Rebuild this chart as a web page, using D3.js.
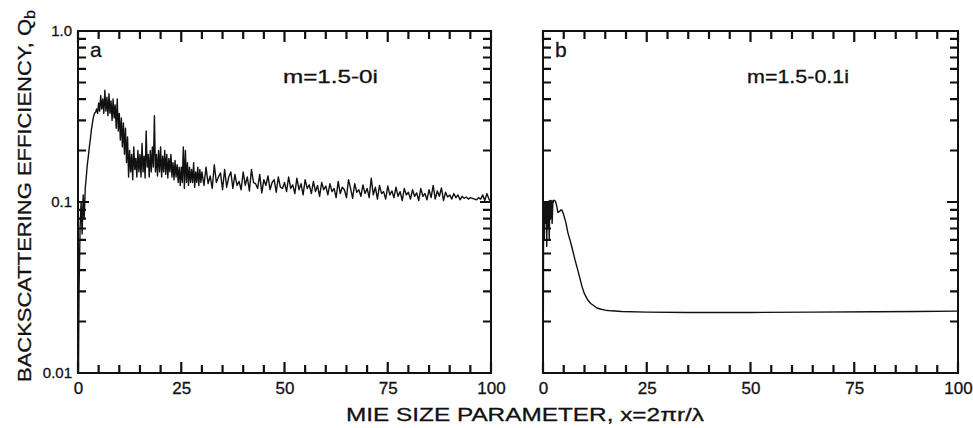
<!DOCTYPE html>
<html>
<head>
<meta charset="utf-8">
<script src="https://cdn.jsdelivr.net/npm/d3@7/dist/d3.min.js"></script>
<style>
  body { margin: 0; background: #fff; }
  svg { display: block; }
  text { font-family: "Liberation Sans", "DejaVu Sans", sans-serif; fill: #111; stroke: #111; stroke-width: 0.3px; }
</style>
</head>
<body>
<svg id="chart" width="973" height="428"></svg>
<script>
// panel a: m = 1.5 - 0i, sampled every 0.25 from x=0 to 30, then every 0.5 to 100
const stepA1 = 0.25, startA2 = 30.5, stepA2 = 0.5;
const qbA1 = [
  0.004, 0.03, 0.07, 0.10, 0.065, 0.11, 0.08, 0.12, 0.14, 0.165,
  0.185, 0.21, 0.235, 0.265, 0.29, 0.315, 0.33, 0.335, 0.35, 0.33,
  0.38, 0.34, 0.42, 0.35, 0.40, 0.33, 0.45, 0.34, 0.41, 0.32,
  0.43, 0.33, 0.39, 0.30, 0.40, 0.31, 0.37, 0.27, 0.40, 0.26,
  0.33, 0.23, 0.31, 0.21, 0.29, 0.19, 0.27, 0.17, 0.24, 0.14,
  0.20, 0.15, 0.19, 0.135, 0.21, 0.155, 0.18, 0.14, 0.20, 0.15,
  0.19, 0.14, 0.22, 0.15, 0.185, 0.138, 0.26, 0.16, 0.19, 0.14,
  0.20, 0.15, 0.21, 0.16, 0.32, 0.15, 0.19, 0.142, 0.20, 0.15,
  0.21, 0.14, 0.185, 0.15, 0.20, 0.145, 0.19, 0.138, 0.18, 0.15,
  0.19, 0.14, 0.17, 0.135, 0.175, 0.14, 0.165, 0.13, 0.16, 0.125,
  0.16, 0.13, 0.21, 0.12, 0.20, 0.13, 0.17, 0.125, 0.16, 0.13,
  0.155, 0.13, 0.17, 0.122, 0.15, 0.13, 0.16, 0.125, 0.155, 0.13,
  0.15
];
const qbA2 = [
  0.125, 0.16, 0.128, 0.142, 0.12, 0.165, 0.13, 0.14, 0.148, 0.118,
  0.155, 0.122, 0.14, 0.15, 0.12, 0.145, 0.125, 0.132, 0.118, 0.15,
  0.125, 0.14, 0.116, 0.155, 0.13, 0.128, 0.12, 0.145, 0.113, 0.135,
  0.125, 0.142, 0.118, 0.13, 0.135, 0.114, 0.14, 0.122, 0.12, 0.13,
  0.115, 0.14, 0.12, 0.126, 0.112, 0.138, 0.118, 0.128, 0.11, 0.135,
  0.12, 0.126, 0.112, 0.132, 0.115, 0.125, 0.108, 0.13, 0.118, 0.124,
  0.11, 0.128, 0.115, 0.12, 0.106, 0.132, 0.112, 0.122, 0.118, 0.106,
  0.135, 0.12, 0.105, 0.128, 0.114, 0.118, 0.108, 0.126, 0.112, 0.12,
  0.106, 0.138, 0.11, 0.122, 0.104, 0.125, 0.112, 0.115, 0.104, 0.124,
  0.11, 0.116, 0.106, 0.122, 0.108, 0.115, 0.102, 0.12, 0.11, 0.114,
  0.104, 0.118, 0.108, 0.113, 0.102, 0.12, 0.108, 0.112, 0.103, 0.118,
  0.106, 0.125, 0.104, 0.116, 0.108, 0.121, 0.102, 0.114, 0.107, 0.11,
  0.104, 0.112, 0.106, 0.11, 0.103, 0.108, 0.105, 0.107, 0.104, 0.106,
  0.105, 0.104, 0.103, 0.106, 0.104, 0.11, 0.102, 0.112, 0.104, 0.10
];

// panel b: m = 1.5 - 0.1i
const xB = [
  0, 0.15, 0.3, 0.45, 0.6, 0.75, 0.9, 1.05, 1.2, 1.35, 1.5, 1.65, 1.8,
  2.0, 2.2, 2.4, 2.6, 2.8, 3.0, 3.3, 3.6, 4.0, 4.3, 4.6, 5.0, 5.5, 6.0,
  6.5, 7.0, 7.7, 8.5, 9.4, 10.0, 10.8, 11.5, 12.2, 13.0, 14.0, 15.0,
  16.5, 19.0, 25, 35, 50, 65, 80, 90, 100
];
const qbB = [
  0.004, 0.10, 0.06, 0.10, 0.075, 0.10, 0.055, 0.10, 0.07, 0.101, 0.06, 0.102, 0.08,
  0.102, 0.075, 0.102, 0.102, 0.102, 0.101, 0.095, 0.087, 0.088, 0.09, 0.0895, 0.084, 0.076, 0.066,
  0.06, 0.054, 0.046, 0.039, 0.032, 0.029, 0.0267, 0.0255, 0.0248, 0.024, 0.0236, 0.0233,
  0.0231, 0.0229, 0.0227, 0.0226, 0.0226, 0.0227, 0.0228, 0.0229, 0.023
];

const xTickLabels = [0, 25, 50, 75, 100];
const yTickLabels = ["0.01", "0.1", "1.0"];
const panelLetters = ["a", "b"];
const panelTitles = ["m=1.5-0i", "m=1.5-0.1i"];

const svg = d3.select("#chart");
const plotTop = 31, plotBottom = 373;
const panels = [
  { x0: 78, x1: 491, letterX: 90, titleX: 283, titleW: 95 },
  { x0: 543, x1: 958, letterX: 555, titleX: 747, titleW: 102 }
];

const seriesA = qbA1.map((v, i) => [i * stepA1, v])
  .concat(qbA2.map((v, i) => [startA2 + i * stepA2, v]));
const seriesB = xB.map((x, i) => [x, qbB[i]]);
const series = [seriesA, seriesB];

const y = d3.scaleLog().domain([0.01, 1]).range([plotBottom, plotTop]);
const yMinor = [];
[0.01, 0.1].forEach(d => { for (let k = 1; k <= 9; k++) yMinor.push(+(d * k).toPrecision(3)); });
yMinor.push(1);
const isMajorY = v => v === 0.01 || v === 0.1 || v === 1;
const xMinor = d3.range(0, 101, 5);

panels.forEach((p, i) => {
  const x = d3.scaleLinear().domain([0, 100]).range([p.x0, p.x1]);
  const g = svg.append("g");

  g.append("clipPath").attr("id", "clip" + i)
    .append("rect")
    .attr("x", p.x0).attr("y", plotTop)
    .attr("width", p.x1 - p.x0).attr("height", plotBottom - plotTop);

  const line = d3.line().x(d => x(d[0])).y(d => y(d[1]));
  g.append("path")
    .datum(series[i])
    .attr("clip-path", "url(#clip" + i + ")")
    .attr("fill", "none")
    .attr("stroke", "#111")
    .attr("stroke-width", 1.4)
    .attr("stroke-linejoin", "round")
    .attr("d", line);

  // ticks pointing inward on all four sides
  const xLen = d => d % 25 === 0 ? 11 : 8;
  const yLen = d => isMajorY(d) ? 11 : 8;
  const tickPath = xMinor.map(d => `M${x(d)},${plotBottom}v${-xLen(d)}M${x(d)},${plotTop}v${xLen(d)}`).join("")
    + yMinor.map(d => `M${p.x0},${y(d)}h${yLen(d)}M${p.x1},${y(d)}h${-yLen(d)}`).join("");
  g.append("path")
    .attr("d", tickPath)
    .attr("fill", "none")
    .attr("stroke", "#111")
    .attr("stroke-width", 2.2);

  // frame
  g.append("rect")
    .attr("x", p.x0).attr("y", plotTop)
    .attr("width", p.x1 - p.x0).attr("height", plotBottom - plotTop)
    .attr("fill", "none").attr("stroke", "#111").attr("stroke-width", 2);

  // x tick labels
  const lab = g.append("g").attr("transform", `translate(0,${plotBottom})`)
    .call(d3.axisBottom(x).tickValues(xTickLabels).tickSize(0).tickPadding(9));
  lab.select(".domain").remove();
  lab.selectAll("text").attr("font-size", 17).attr("font-family", null);

  if (i === 0) {
    const yl = g.append("g").attr("transform", `translate(${p.x0},0)`)
      .call(d3.axisLeft(y).tickValues([0.01, 0.1, 1]).tickSize(0).tickPadding(6)
        .tickFormat((d, k) => yTickLabels[k]));
    yl.select(".domain").remove();
    yl.selectAll("text").attr("font-size", 15).attr("font-family", null);
  }

  g.append("text").attr("x", p.letterX).attr("y", 57)
    .attr("font-size", 21).text(panelLetters[i]);
  g.append("text").attr("x", p.titleX).attr("y", 83)
    .attr("font-size", 18).attr("textLength", p.titleW).attr("lengthAdjust", "spacingAndGlyphs")
    .text(panelTitles[i]);
});

// axis titles
svg.append("text")
  .attr("x", 346).attr("y", 421)
  .attr("font-size", 19).attr("textLength", 358).attr("lengthAdjust", "spacingAndGlyphs")
  .text("MIE SIZE PARAMETER, x=2\u03c0r/\u03bb");

const yt = svg.append("text")
  .attr("transform", "translate(31,382) rotate(-90)")
  .attr("font-size", 19).attr("textLength", 372).attr("lengthAdjust", "spacingAndGlyphs");
yt.append("tspan").text("BACKSCATTERING EFFICIENCY, Q");
yt.append("tspan").attr("font-size", 14).attr("dy", 4).text("b");
</script>
</body>
</html>
